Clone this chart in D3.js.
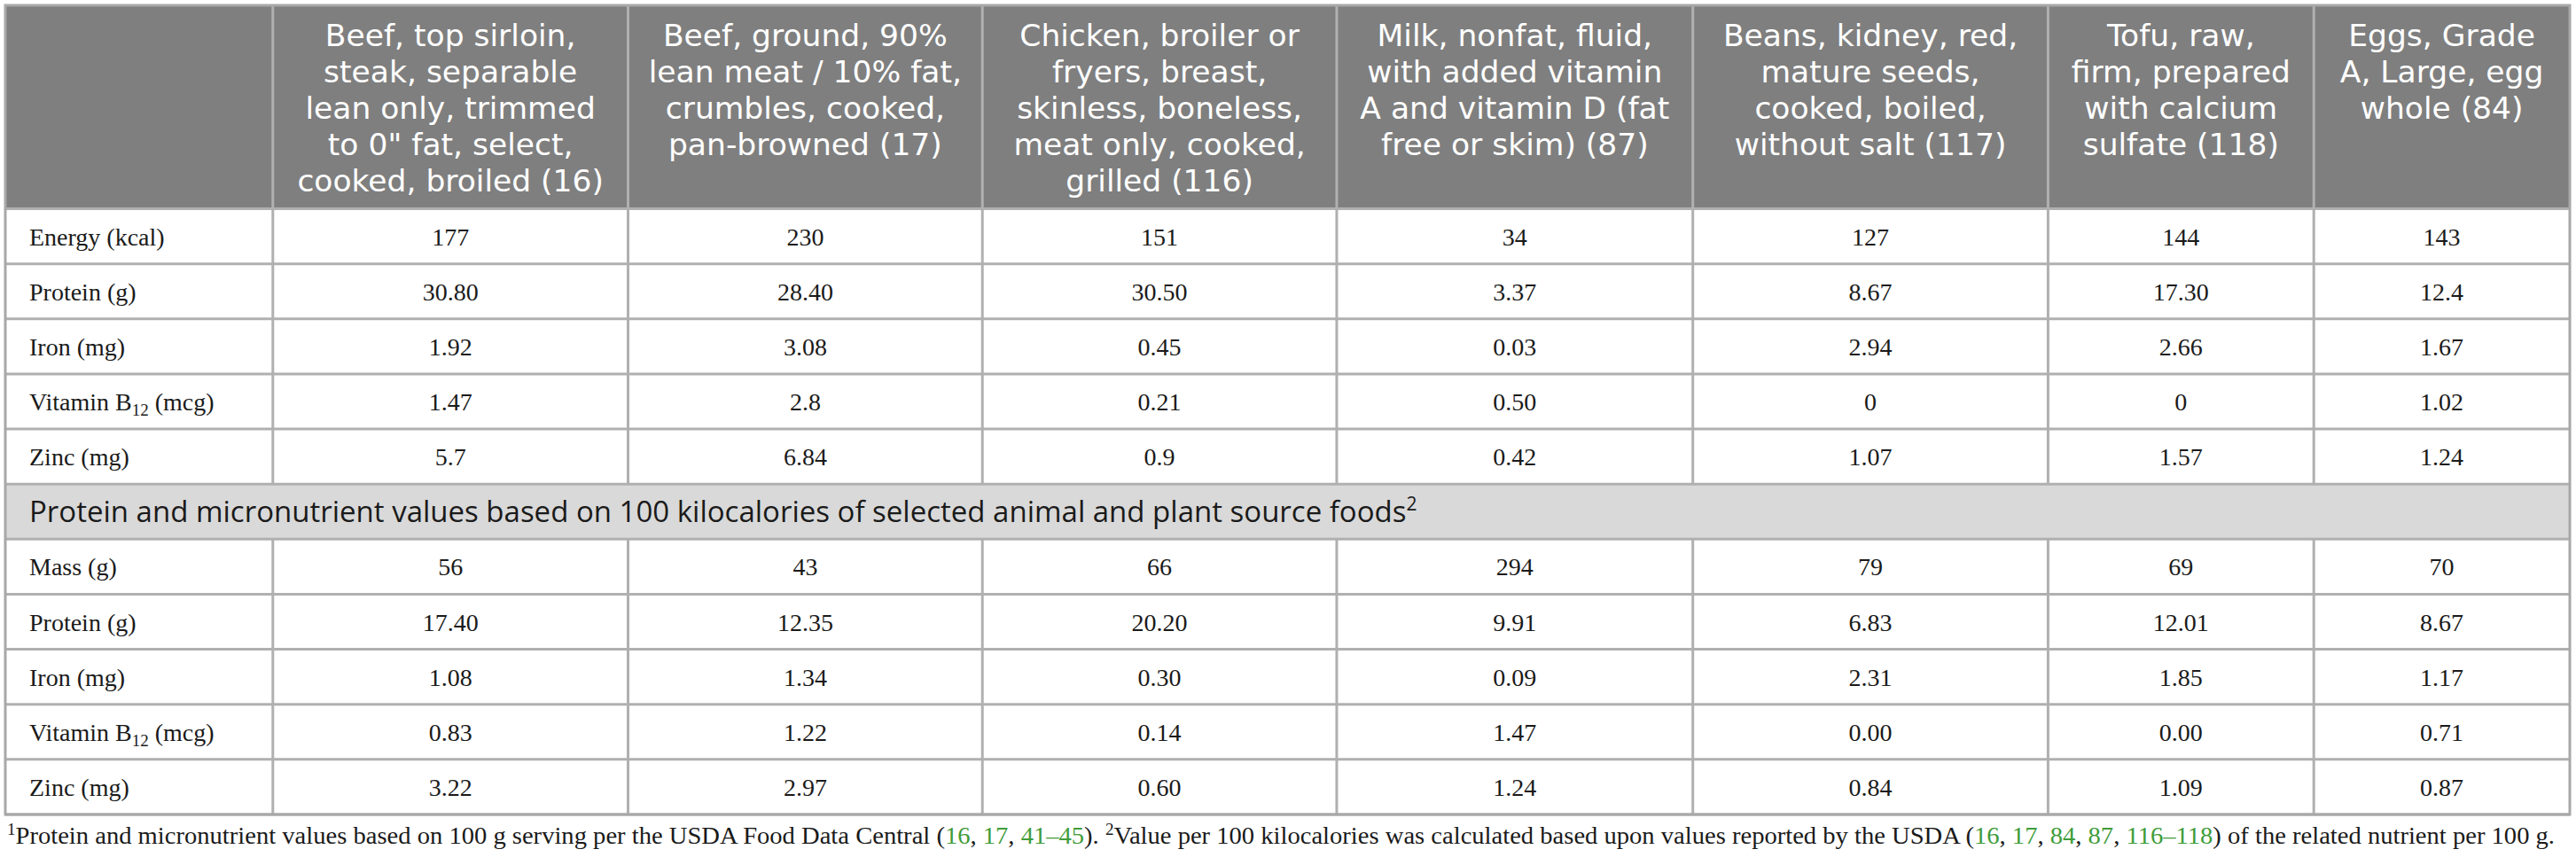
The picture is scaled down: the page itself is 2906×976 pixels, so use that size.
<!DOCTYPE html>
<html lang="en">
<head>
    <meta charset="UTF-8">
    <title>Protein and micronutrient values of selected animal and plant source foods</title>
    <script src="https://d3js.org/d3.v7.min.js"></script>
    <style>
        body { margin: 0; background: #fff; }
        .head-text { font-family: "DejaVu Sans", sans-serif; font-size: 34.5px; fill: #fff; }
        .sub-text { font-family: "Open Sans", sans-serif; font-size: 33px; fill: #1a1a1a; }
        .cell-text { font-family: "Liberation Serif", "DejaVu Serif", serif; font-size: 28px; fill: #1a1a1a; }
        .note-text { font-family: "Liberation Serif", "DejaVu Serif", serif; font-size: 27px; fill: #1a1a1a; }
        .ref { fill: #3f9c3a; }
    </style>
</head>
<body>
<svg id="chart" width="2906" height="976"></svg>
<script>
    // Column headers (one entry per food, split into the printed lines)
    const foods = [
        ["Beef, top sirloin,", "steak, separable", "lean only, trimmed", "to 0\" fat, select,", "cooked, broiled (16)"],
        ["Beef, ground, 90%", "lean meat / 10% fat,", "crumbles, cooked,", "pan-browned (17)"],
        ["Chicken, broiler or", "fryers, breast,", "skinless, boneless,", "meat only, cooked,", "grilled (116)"],
        ["Milk, nonfat, fluid,", "with added vitamin", "A and vitamin D (fat", "free or skim) (87)"],
        ["Beans, kidney, red,", "mature seeds,", "cooked, boiled,", "without salt (117)"],
        ["Tofu, raw,", "firm, prepared", "with calcium", "sulfate (118)"],
        ["Eggs, Grade", "A, Large, egg", "whole (84)"]
    ];

    // Per 100 g serving
    const per100gLabels = ["Energy (kcal)", "Protein (g)", "Iron (mg)", "Vitamin B12 (mcg)", "Zinc (mg)"];
    const energy100g  = ["177", "230", "151", "34", "127", "144", "143"];
    const protein100g = ["30.80", "28.40", "30.50", "3.37", "8.67", "17.30", "12.4"];
    const iron100g    = ["1.92", "3.08", "0.45", "0.03", "2.94", "2.66", "1.67"];
    const b12_100g    = ["1.47", "2.8", "0.21", "0.50", "0", "0", "1.02"];
    const zinc100g    = ["5.7", "6.84", "0.9", "0.42", "1.07", "1.57", "1.24"];

    // Per 100 kilocalories
    const subHeading = "Protein and micronutrient values based on 100 kilocalories of selected animal and plant source foods";
    const per100kcalLabels = ["Mass (g)", "Protein (g)", "Iron (mg)", "Vitamin B12 (mcg)", "Zinc (mg)"];
    const mass100kcal    = ["56", "43", "66", "294", "79", "69", "70"];
    const protein100kcal = ["17.40", "12.35", "20.20", "9.91", "6.83", "12.01", "8.67"];
    const iron100kcal    = ["1.08", "1.34", "0.30", "0.09", "2.31", "1.85", "1.17"];
    const b12_100kcal    = ["0.83", "1.22", "0.14", "1.47", "0.00", "0.00", "0.71"];
    const zinc100kcal    = ["3.22", "2.97", "0.60", "1.24", "0.84", "1.09", "0.87"];

    // Footnote pieces: [text, kind]  kind: "t" text, "s" superscript, "r" reference link
    const footnote = [
        ["1", "s"], ["Protein and micronutrient values based on 100 g serving per the USDA Food Data Central (", "t"],
        ["16", "r"], [", ", "t"], ["17", "r"], [", ", "t"], ["41–45", "r"], ["). ", "t"],
        ["2", "s"], ["Value per 100 kilocalories was calculated based upon values reported by the USDA (", "t"],
        ["16", "r"], [", ", "t"], ["17", "r"], [", ", "t"], ["84", "r"], [", ", "t"], ["87", "r"], [", ", "t"],
        ["116–118", "r"], [") of the related nutrient per 100 g.", "t"]
    ];

    // Build table rows
    const rows = [];
    [energy100g, protein100g, iron100g, b12_100g, zinc100g].forEach((v, i) =>
        rows.push({ type: "data", label: per100gLabels[i], values: v }));
    rows.push({ type: "sub", label: subHeading });
    [mass100kcal, protein100kcal, iron100kcal, b12_100kcal, zinc100kcal].forEach((v, i) =>
        rows.push({ type: "data", label: per100kcalLabels[i], values: v }));

    // Layout
    const tLeft = 6, tRight = 2899, tTop = 6, headBottom = 235.5, tableBottom = 919;
    const colWeights = [302, 401, 400, 400, 402, 401, 300, 289];
    const edges = [0];
    colWeights.forEach(w => edges.push(edges[edges.length - 1] + w));
    const x = d3.scaleLinear().domain([0, edges[edges.length - 1]]).range([tLeft, tRight]);
    const colX0 = i => x(edges[i]);
    const colX1 = i => x(edges[i + 1]);

    const y = d3.scaleBand()
        .domain(d3.range(rows.length))
        .range([headBottom, tableBottom])
        .padding(0);

    const lineColor = "#b0b0b0";
    const svg = d3.select("#chart");

    // Header background
    svg.append("rect")
        .attr("x", tLeft).attr("y", tTop)
        .attr("width", tRight - tLeft).attr("height", headBottom - tTop)
        .attr("fill", "#7f7f7f");

    // Sub-heading background
    rows.forEach((r, i) => {
        if (r.type === "sub") {
            svg.append("rect")
                .attr("x", tLeft).attr("y", y(i))
                .attr("width", tRight - tLeft).attr("height", y.bandwidth())
                .attr("fill", "#d9d9d9");
        }
    });

    // Header text (top aligned, centered)
    const head = svg.append("g");
    foods.forEach((lines, i) => {
        const cx = (colX0(i + 1) + colX1(i + 1)) / 2;
        const t = head.append("text")
            .attr("class", "head-text")
            .attr("text-anchor", "middle");
        lines.forEach((ln, j) => {
            t.append("tspan")
                .attr("x", cx)
                .attr("y", tTop + 46 + j * 41)
                .text(ln);
        });
    });

    // Body text
    const body = svg.append("g");
    rows.forEach((r, i) => {
        const baseY = y(i) + y.bandwidth() / 2 + 10;
        if (r.type === "sub") {
            const t = body.append("text")
                .attr("class", "sub-text")
                .attr("x", tLeft + 27)
                .attr("y", baseY + 2)
                .text(r.label);
            t.append("tspan")
                .attr("font-size", "21px")
                .attr("dy", -13)
                .text("2");
            return;
        }
        const lab = body.append("text")
            .attr("class", "cell-text")
            .attr("x", tLeft + 27)
            .attr("y", baseY);
        const m = r.label.match(/^(.*B)(12)(.*)$/);
        if (m) {
            lab.append("tspan").text(m[1]);
            lab.append("tspan").attr("font-size", "19px").attr("dy", 6).text(m[2]);
            lab.append("tspan").attr("dy", -6).text(m[3]);
        } else {
            lab.text(r.label);
        }
        r.values.forEach((v, j) => {
            body.append("text")
                .attr("class", "cell-text")
                .attr("text-anchor", "middle")
                .attr("x", (colX0(j + 1) + colX1(j + 1)) / 2)
                .attr("y", baseY)
                .text(v);
        });
    });

    // Grid lines
    const grid = svg.append("g").attr("fill", "none");
    // horizontal lines between rows
    d3.range(rows.length + 1).forEach(i => {
        const yy = i === rows.length ? tableBottom : y(i);
        grid.append("line")
            .attr("x1", tLeft).attr("x2", tRight)
            .attr("y1", yy).attr("y2", yy)
            .attr("stroke", lineColor).attr("stroke-width", 3);
    });
    // vertical column lines (interrupted by the sub-heading row)
    const subIndex = rows.findIndex(r => r.type === "sub");
    d3.range(1, colWeights.length).forEach(c => {
        const xx = colX0(c);
        grid.append("line")
            .attr("x1", xx).attr("x2", xx)
            .attr("y1", tTop).attr("y2", y(subIndex))
            .attr("stroke", lineColor).attr("stroke-width", 3);
        grid.append("line")
            .attr("x1", xx).attr("x2", xx)
            .attr("y1", y(subIndex) + y.bandwidth()).attr("y2", tableBottom)
            .attr("stroke", lineColor).attr("stroke-width", 3);
    });
    // outer border
    grid.append("rect")
        .attr("x", tLeft).attr("y", tTop)
        .attr("width", tRight - tLeft).attr("height", tableBottom - tTop)
        .attr("stroke", "#a8a8a8").attr("stroke-width", 3);

    // Footnote
    const note = svg.append("text")
        .attr("class", "note-text")
        .attr("x", 8)
        .attr("y", 952)
        .attr("textLength", 2874)
        .attr("lengthAdjust", "spacingAndGlyphs");
    footnote.forEach(([txt, kind], i) => {
        const ts = note.append("tspan").text(txt);
        const prev = i > 0 ? footnote[i - 1][1] : "t";
        if (kind === "s") {
            ts.attr("font-size", "18px").attr("dy", -10);
        } else if (prev === "s") {
            ts.attr("dy", 10);
        }
        if (kind === "r") ts.attr("class", "ref");
    });
</script>
</body>
</html>
